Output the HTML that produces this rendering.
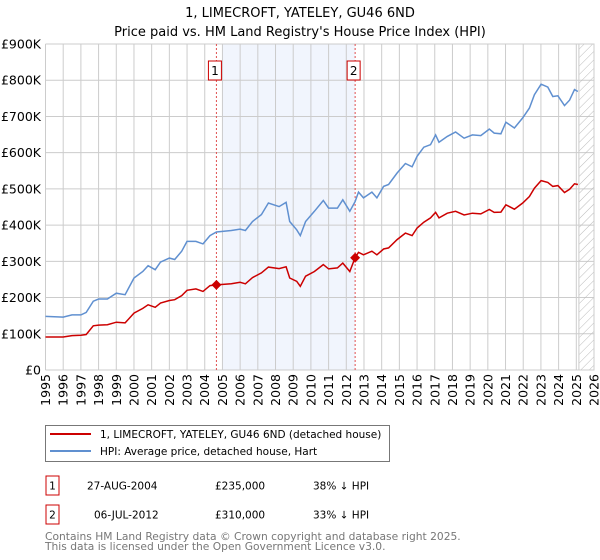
<!DOCTYPE html>
<html><head><meta charset="utf-8"><style>
html,body{margin:0;padding:0;background:#fff;width:600px;height:560px;overflow:hidden;font-family:"DejaVu Sans","Liberation Sans",sans-serif}
svg text{font-family:"DejaVu Sans","Liberation Sans",sans-serif}
</style></head><body>
<svg id="chart" width="600" height="560" xmlns="http://www.w3.org/2000/svg">
<defs><pattern id="hatch" width="6" height="6" patternUnits="userSpaceOnUse" patternTransform="rotate(45)"><line x1="0" y1="0" x2="0" y2="6" stroke="#bbb" stroke-width="1"/></pattern></defs>
<text x="300" y="17" text-anchor="middle" font-size="13">1, LIMECROFT, YATELEY, GU46 6ND</text>
<text x="300" y="36" text-anchor="middle" font-size="13">Price paid vs. HM Land Registry's House Price Index (HPI)</text>
<g id="grid"></g><g id="series"></g><g id="axes"></g>
<g>
<rect x="45.5" y="425.5" width="344" height="36" fill="#fff" stroke="#777"/>
<line x1="50" y1="434" x2="91" y2="434" stroke="#cc0000" stroke-width="2"/>
<text x="100" y="438" font-size="10.5">1, LIMECROFT, YATELEY, GU46 6ND (detached house)</text>
<line x1="50" y1="451" x2="91" y2="451" stroke="#6090d0" stroke-width="2"/>
<text x="100" y="455" font-size="10.5">HPI: Average price, detached house, Hart</text>
</g>
<g font-size="10.5">
<rect x="46" y="476" width="13" height="19" fill="#fff" stroke="#cc0000"/>
<text x="52.5" y="489.5" text-anchor="middle">1</text>
<text x="87" y="489.5">27-AUG-2004</text>
<text x="215" y="489.5">£235,000</text>
<text x="313" y="489.5">38% ↓ HPI</text>
<rect x="46" y="505" width="13" height="19" fill="#fff" stroke="#cc0000"/>
<text x="52.5" y="518.5" text-anchor="middle">2</text>
<text x="94" y="518.5">06-JUL-2012</text>
<text x="215" y="518.5">£310,000</text>
<text x="313" y="518.5">33% ↓ HPI</text>
</g>
<text x="45" y="540" font-size="10.7" fill="#777">Contains HM Land Registry data © Crown copyright and database right 2025.</text>
<text x="45" y="550" font-size="10.7" fill="#777">This data is licensed under the Open Government Licence v3.0.</text>
</svg>
<script>
const dates=[1995.0,1996.0,1996.5,1997.0,1997.3,1997.7,1998.0,1998.5,1999.0,1999.5,2000.0,2000.5,2000.8,2001.2,2001.5,2002.0,2002.3,2002.7,2003.0,2003.5,2003.9,2004.3,2004.66,2005.5,2006.0,2006.3,2006.7,2007.2,2007.6,2008.2,2008.6,2008.8,2009.2,2009.4,2009.7,2010.2,2010.7,2011.0,2011.5,2011.8,2012.2,2012.5,2012.69,2012.97,2013.45,2013.73,2014.11,2014.39,2014.87,2015.34,2015.72,2016.0,2016.38,2016.76,2017.05,2017.24,2017.71,2018.18,2018.66,2019.13,2019.6,2020.08,2020.36,2020.74,2021.02,2021.5,2021.97,2022.35,2022.63,2023.01,2023.39,2023.67,2023.96,2024.33,2024.62,2024.9,2025.09];
const hpiValues=[148,146,152,152,159,190,196,196,212,208,254,272,288,277,298,309,305,328,355,355,348,371,381,385,389,385,410,429,461,451,463,410,387,371,410,438,468,447,447,470,438,465,491,475,491,475,507,512,544,570,561,590,615,622,649,629,645,657,640,649,647,665,654,652,684,668,696,723,760,789,781,755,757,730,745,774,769];
const propertyValues=[91,91,95,96,98,122,124,125,132,130,157,170,180,173,185,192,194,205,220,224,217,233,235,238,242,238,255,268,284,280,285,254,245,231,259,272,291,279,282,295,272,310,325,318,328,318,334,337,360,378,371,392,408,420,435,420,433,438,428,433,431,443,435,436,456,444,461,479,502,523,518,507,509,490,499,514,512];
const saleDates=[2004.66,2012.5];
const salePrices=[235,310];
const saleLabels=["1","2"];
const yTicks=[0,100,200,300,400,500,600,700,800,900];
const yTickLabels=["£0","£100K","£200K","£300K","£400K","£500K","£600K","£700K","£800K","£900K"];
const xTicks=[1995,1996,1997,1998,1999,2000,2001,2002,2003,2004,2005,2006,2007,2008,2009,2010,2011,2012,2013,2014,2015,2016,2017,2018,2019,2020,2021,2022,2023,2024,2025,2026];

const NS="http://www.w3.org/2000/svg";
const L=45.5,R=594,T=44,B=370;
const X=v=>L+(v-1995)/(2026-1995)*(R-L);
const Y=v=>B-v/900*(B-T);
function mk(tag,attrs,parent){const e=document.createElementNS(NS,tag);for(const k in attrs)e.setAttribute(k,attrs[k]);parent.appendChild(e);return e;}
const grid=document.getElementById('grid'),series=document.getElementById('series'),axes=document.getElementById('axes');
const band=mk('rect',{x:X(2005),y:T,width:X(saleDates[1])-X(2005),height:B-T,fill:'#eef3fc',opacity:0.8},grid);


xTicks.forEach(t=>{const l=mk('line',{x1:X(t),x2:X(t),y1:T,y2:B,stroke:'#ccc','stroke-width':1},grid);

});
yTicks.forEach(t=>{const l=mk('line',{x1:L,x2:R,y1:Y(t),y2:Y(t),stroke:'#ccc','stroke-width':1},grid);

});
const lastDate=dates[dates.length-1];
const hatch=mk('rect',{x:X(lastDate)+1,y:T,width:R-X(lastDate)-1,height:B-T,fill:'url(#hatch)',stroke:'#ccc'},grid);


saleDates.forEach((d,i)=>{const l=mk('line',{x1:X(d),x2:X(d),y1:T,y2:B,stroke:'#e05050','stroke-width':1,'stroke-dasharray':'2,2'},grid);


const r=mk('rect',{x:X(d)-8,y:61,width:13,height:19,fill:'#fff',stroke:'#cc0000'},grid);


const tx=mk('text',{x:X(d)-1.5,y:75,'text-anchor':'middle','font-size':12},grid);tx.textContent=saleLabels[i];

});
function pathOf(vals){return dates.map((d,i)=>(i?'L':'M')+X(d).toFixed(1)+','+Y(vals[i]).toFixed(1)).join('');}
const hp=mk('path',{d:pathOf(hpiValues),fill:'none',stroke:'#6090d0','stroke-width':1.5},series);


const pp=mk('path',{d:pathOf(propertyValues),fill:'none',stroke:'#cc0000','stroke-width':1.5},series);


saleDates.forEach((d,i)=>{const cx=X(d),cy=Y(salePrices[i]);
const m=mk('polygon',{points:`${cx},${cy-5} ${cx+5},${cy} ${cx},${cy+5} ${cx-5},${cy}`,fill:'#cc0000'},series);

});
yTicks.forEach((t,i)=>{const tx=mk('text',{x:41,y:Y(t)+4.5,'text-anchor':'end','font-size':12.5},axes);tx.textContent=yTickLabels[i];

});
xTicks.forEach(t=>{const tx=mk('text',{x:0,y:0,'text-anchor':'end','font-size':12.5,transform:`translate(${X(t)+4.5},374) rotate(-90)`},axes);tx.textContent=t;

});
</script>
</body></html>
